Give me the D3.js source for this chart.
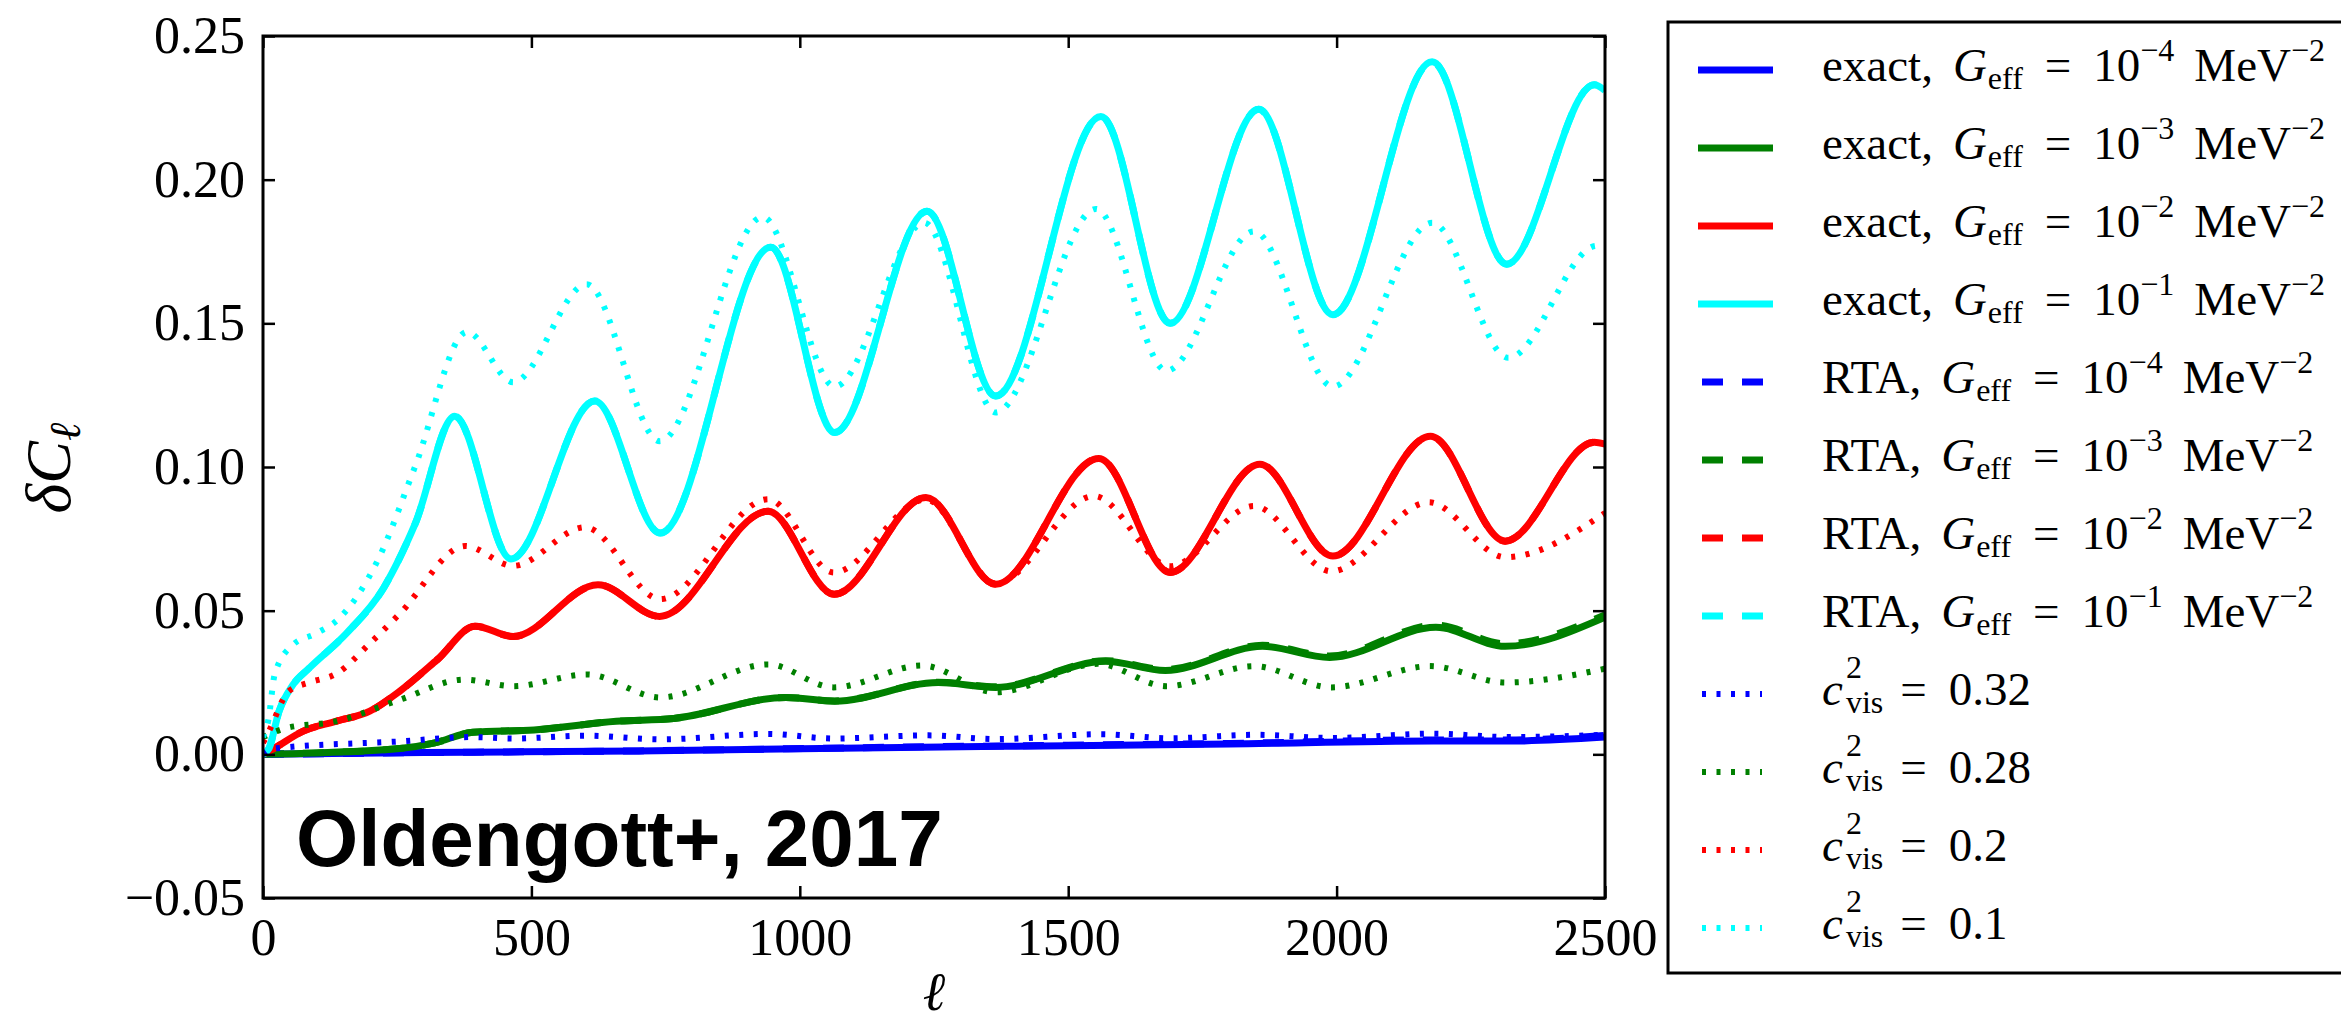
<!DOCTYPE html>
<html>
<head>
<meta charset="utf-8">
<script src="https://cdn.jsdelivr.net/npm/d3@7.9.0/dist/d3.min.js"></script>
<style>
  body { margin: 0; background: #fff; }
  svg { display: block; }
  .tick line { stroke: #000; stroke-width: 2.5; }
  .legend text { font-family: "Liberation Serif", serif; font-size: 47px; fill: #000; }
</style>
</head>
<body>
<svg id="chart" width="2341" height="1027"></svg>
<script>
// values, each point is [ell, delta C_ell]
const exactBlue = [[0, 0], [300, 0.0006], [700, 0.0012], [1187, 0.0024], [1500, 0.003], [1800, 0.0036], [2180, 0.0046], [2320, 0.0046], [2500, 0.006]];
const exactGreen = [[0, 0], [100, 0.0005], [255, 0.002], [320, 0.004], [391, 0.0077], [505, 0.0085], [658, 0.0115], [765, 0.0125], [974, 0.0198], [1065, 0.0185], [1258, 0.025], [1365, 0.0233], [1570, 0.0324], [1681, 0.0292], [1862, 0.0376], [1987, 0.0337], [2185, 0.0442], [2314, 0.0376], [2500, 0.0477]];
const exactRed = [[0, 0], [20, 0.002], [74, 0.008], [136, 0.0115], [199, 0.015], [255, 0.022], [325, 0.033], [395, 0.0446], [466, 0.041], [624, 0.059], [739, 0.048], [941, 0.0846], [1064, 0.0557], [1235, 0.0894], [1365, 0.0592], [1557, 0.103], [1690, 0.0633], [1857, 0.101], [1993, 0.069], [2175, 0.1107], [2314, 0.0742], [2480, 0.1086], [2500, 0.108]];
const exactCyan = [[0, 0], [11, 0.002], [30, 0.015], [55, 0.024], [86, 0.03], [155, 0.042], [225, 0.058], [283, 0.08], [357, 0.1177], [462, 0.068], [618, 0.123], [740, 0.077], [946, 0.1765], [1065, 0.112], [1237, 0.189], [1365, 0.1247], [1561, 0.222], [1690, 0.15], [1855, 0.2245], [1993, 0.153], [2178, 0.241], [2317, 0.1706], [2480, 0.233], [2500, 0.231]];

// RTA curves lie on top of the exact ones, only blue and green drift a little at high ell
const rtaBlue = [[0, 0], [300, 0.0006], [700, 0.0012], [1187, 0.0025], [1500, 0.0032], [1800, 0.0038], [2180, 0.005], [2320, 0.005], [2500, 0.0066]];
const rtaGreen = [[0, 0], [100, 0.0005], [255, 0.002], [320, 0.004], [391, 0.0077], [505, 0.0085], [658, 0.0115], [765, 0.0125], [974, 0.0198], [1065, 0.0186], [1258, 0.0251], [1365, 0.0235], [1570, 0.0326], [1681, 0.0295], [1862, 0.038], [1987, 0.0342], [2185, 0.045], [2314, 0.0385], [2500, 0.0485]];
const rtaRed = exactRed;
const rtaCyan = exactCyan;

const visBlue = [[0, 0], [20, 0.002], [255, 0.0045], [390, 0.006], [466, 0.0055], [604, 0.0065], [740, 0.0052], [941, 0.0071], [1063, 0.0055], [1240, 0.0066], [1365, 0.0053], [1560, 0.007], [1690, 0.0056], [1850, 0.0068], [1990, 0.0057], [2180, 0.0072], [2320, 0.006], [2500, 0.0068]];
const visGreen = [[0, 0.006], [40, 0.009], [136, 0.0115], [255, 0.019], [375, 0.026], [466, 0.0237], [604, 0.0278], [740, 0.0198], [941, 0.0313], [1063, 0.0233], [1228, 0.0309], [1365, 0.0216], [1555, 0.0315], [1683, 0.0237], [1846, 0.0307], [1990, 0.0233], [2175, 0.0307], [2314, 0.025], [2500, 0.0298]];
const visRed = [[0, 0.004], [11, 0.008], [48, 0.022], [86, 0.025], [136, 0.028], [199, 0.0386], [255, 0.049], [377, 0.0725], [466, 0.0656], [600, 0.079], [740, 0.054], [941, 0.0888], [1063, 0.0633], [1235, 0.0887], [1365, 0.0595], [1548, 0.0899], [1690, 0.0655], [1846, 0.0864], [1990, 0.0637], [2172, 0.0877], [2314, 0.0686], [2500, 0.084]];
const visCyan = [[0, 0.006], [10, 0.012], [22, 0.028], [55, 0.038], [98, 0.042], [140, 0.047], [215, 0.068], [283, 0.1], [380, 0.147], [466, 0.1295], [603, 0.1636], [739, 0.109], [931, 0.187], [1065, 0.128], [1232, 0.185], [1365, 0.119], [1552, 0.1898], [1683, 0.1335], [1846, 0.182], [1993, 0.128], [2178, 0.185], [2320, 0.138], [2485, 0.177], [2500, 0.1765]];

const colors = ["#0000ff", "#008000", "#ff0000", "#00ffff"];
const geffExponents = ["\u22124", "\u22123", "\u22122", "\u22121"];
const cvisValues = ["0.32", "0.28", "0.2", "0.1"];
const xTicks = [0, 500, 1000, 1500, 2000, 2500];
const yTicks = [-0.05, 0, 0.05, 0.1, 0.15, 0.2, 0.25];

const svg = d3.select("#chart");
svg.append("rect").attr("width", 2341).attr("height", 1027).attr("fill", "#fff");

let x = d3.scaleLinear().domain([0, 2500]).range([263, 1605]);
let y = d3.scaleLinear().domain([-0.05, 0.25]).range([898, 36]);

// clip curves to the axes box
svg.append("clipPath").attr("id", "plotClip")
  .append("rect")
  .attr("x", x(0)).attr("y", y(0.25))
  .attr("width", x(2500) - x(0)).attr("height", y(-0.05) - y(0.25));

let styles = {
  solid: { width: 7, dash: null },
  dashed: { width: 7, dash: "21,19" },
  dotted: { width: 6, dash: "4,10.5" },
};

let series = [
  { data: exactBlue, color: colors[0], style: "solid" },
  { data: exactGreen, color: colors[1], style: "solid" },
  { data: exactRed, color: colors[2], style: "solid" },
  { data: exactCyan, color: colors[3], style: "solid" },
  { data: rtaBlue, color: colors[0], style: "dashed" },
  { data: rtaGreen, color: colors[1], style: "dashed" },
  { data: rtaRed, color: colors[2], style: "dashed" },
  { data: rtaCyan, color: colors[3], style: "dashed" },
  { data: visBlue, color: colors[0], style: "dotted" },
  { data: visGreen, color: colors[1], style: "dotted" },
  { data: visRed, color: colors[2], style: "dotted" },
  { data: visCyan, color: colors[3], style: "dotted" },
];

let line = d3.line()
  .x((d) => x(d[0]))
  .y((d) => y(d[1]))
  .curve(d3.curveMonotoneX);

let curves = svg.append("g").attr("clip-path", "url(#plotClip)");
series.forEach((s) => {
  curves.append("path")
    .attr("d", line(s.data))
    .attr("fill", "none")
    .attr("stroke", s.color)
    .attr("stroke-width", styles[s.style].width)
    .attr("stroke-dasharray", styles[s.style].dash)
    .attr("stroke-linejoin", "round");
});

// axes, ticks point inward on all four sides
svg.append("g")
  .attr("transform", `translate(0,${y(-0.05)})`)
  .call(d3.axisBottom(x).tickValues(xTicks).tickSizeInner(-12).tickSizeOuter(0).tickPadding(20).tickFormat(d3.format("d")))
  .call((g) => g.select(".domain").remove());
svg.append("g")
  .attr("transform", `translate(0,${y(0.25)})`)
  .call(d3.axisTop(x).tickValues(xTicks).tickSizeInner(-12).tickSizeOuter(0).tickFormat(""))
  .call((g) => g.select(".domain").remove());
svg.append("g")
  .attr("transform", `translate(${x(0)},0)`)
  .call(d3.axisLeft(y).tickValues(yTicks).tickSizeInner(-12).tickSizeOuter(0).tickPadding(18).tickFormat(d3.format(".2f")))
  .call((g) => g.select(".domain").remove());
svg.append("g")
  .attr("transform", `translate(${x(2500)},0)`)
  .call(d3.axisRight(y).tickValues(yTicks).tickSizeInner(-12).tickSizeOuter(0).tickFormat(""))
  .call((g) => g.select(".domain").remove());

svg.selectAll(".tick text").attr("font-family", "Liberation Serif").attr("font-size", 52).attr("fill", "#000");

svg.append("rect")
  .attr("x", x(0)).attr("y", y(0.25))
  .attr("width", x(2500) - x(0)).attr("height", y(-0.05) - y(0.25))
  .attr("fill", "none").attr("stroke", "#000").attr("stroke-width", 3);

// axis labels
let ylab = svg.append("text")
  .attr("transform", "translate(70,468) rotate(-90)")
  .attr("text-anchor", "middle")
  .attr("font-family", "Liberation Serif")
  .attr("font-size", 64)
  .attr("font-style", "italic");
ylab.append("tspan").text("\u03B4C");
ylab.append("tspan").attr("dy", 10).attr("font-size", 44).text("\u2113");

svg.append("text")
  .attr("x", 934).attr("y", 1010)
  .attr("text-anchor", "middle")
  .attr("font-family", "Liberation Serif")
  .attr("font-size", 54)
  .attr("font-style", "italic")
  .text("\u2113");

svg.append("text")
  .attr("x", 296).attr("y", 866)
  .attr("font-family", "Liberation Sans")
  .attr("font-weight", "bold")
  .attr("font-size", 80)
  .text("Oldengott+, 2017");

// legend
let legend = svg.append("g").attr("class", "legend");
legend.append("rect")
  .attr("x", 1668).attr("y", 22).attr("width", 700).attr("height", 951)
  .attr("fill", "#fff").attr("stroke", "#000").attr("stroke-width", 3);

const rowY = (i) => 70 + 78 * i;
const textX = 1822;

function geffLabel(row, prefix, exponent) {
  let t = legend.append("text").attr("x", textX).attr("y", rowY(row) + 11);
  t.append("tspan").text(prefix + ",");
  t.append("tspan").attr("dx", 20).attr("font-style", "italic").text("G");
  t.append("tspan").attr("dx", 1).attr("dy", 8).attr("font-size", 32).text("eff");
  t.append("tspan").attr("dx", 22).attr("dy", -8).text("=");
  t.append("tspan").attr("dx", 22).text("10");
  t.append("tspan").attr("dy", -20).attr("font-size", 32).text(exponent);
  t.append("tspan").attr("dx", 20).attr("dy", 20).text("MeV");
  t.append("tspan").attr("dy", -20).attr("font-size", 32).text("\u22122");
}

function cvisLabel(row, value) {
  let t = legend.append("text").attr("x", textX).attr("y", rowY(row) + 11);
  t.append("tspan").attr("font-style", "italic").text("c");
  let sup = t.append("tspan").attr("dx", 3).attr("dy", -27).attr("font-size", 32).text("2");
  let w = sup.node().getComputedTextLength();
  t.append("tspan").attr("dx", -w).attr("dy", 35).attr("font-size", 32).text("vis");
  t.append("tspan").attr("dx", 17).attr("dy", -8).text("=");
  t.append("tspan").attr("dx", 22).text(value);
}

series.forEach((s, i) => {
  let yy = rowY(i);
  let sample = legend.append("line")
    .attr("y1", yy).attr("y2", yy)
    .attr("stroke", s.color)
    .attr("stroke-width", styles[s.style].width)
    .attr("stroke-dasharray", styles[s.style].dash);
  if (s.style === "solid") sample.attr("x1", 1698).attr("x2", 1773);
  else if (s.style === "dashed") sample.attr("x1", 1702).attr("x2", 1765);
  else sample.attr("x1", 1702).attr("x2", 1762);

  if (i < 4) geffLabel(i, "exact", geffExponents[i]);
  else if (i < 8) geffLabel(i, "RTA", geffExponents[i - 4]);
  else cvisLabel(i, cvisValues[i - 8]);
});
</script>
</body>
</html>
